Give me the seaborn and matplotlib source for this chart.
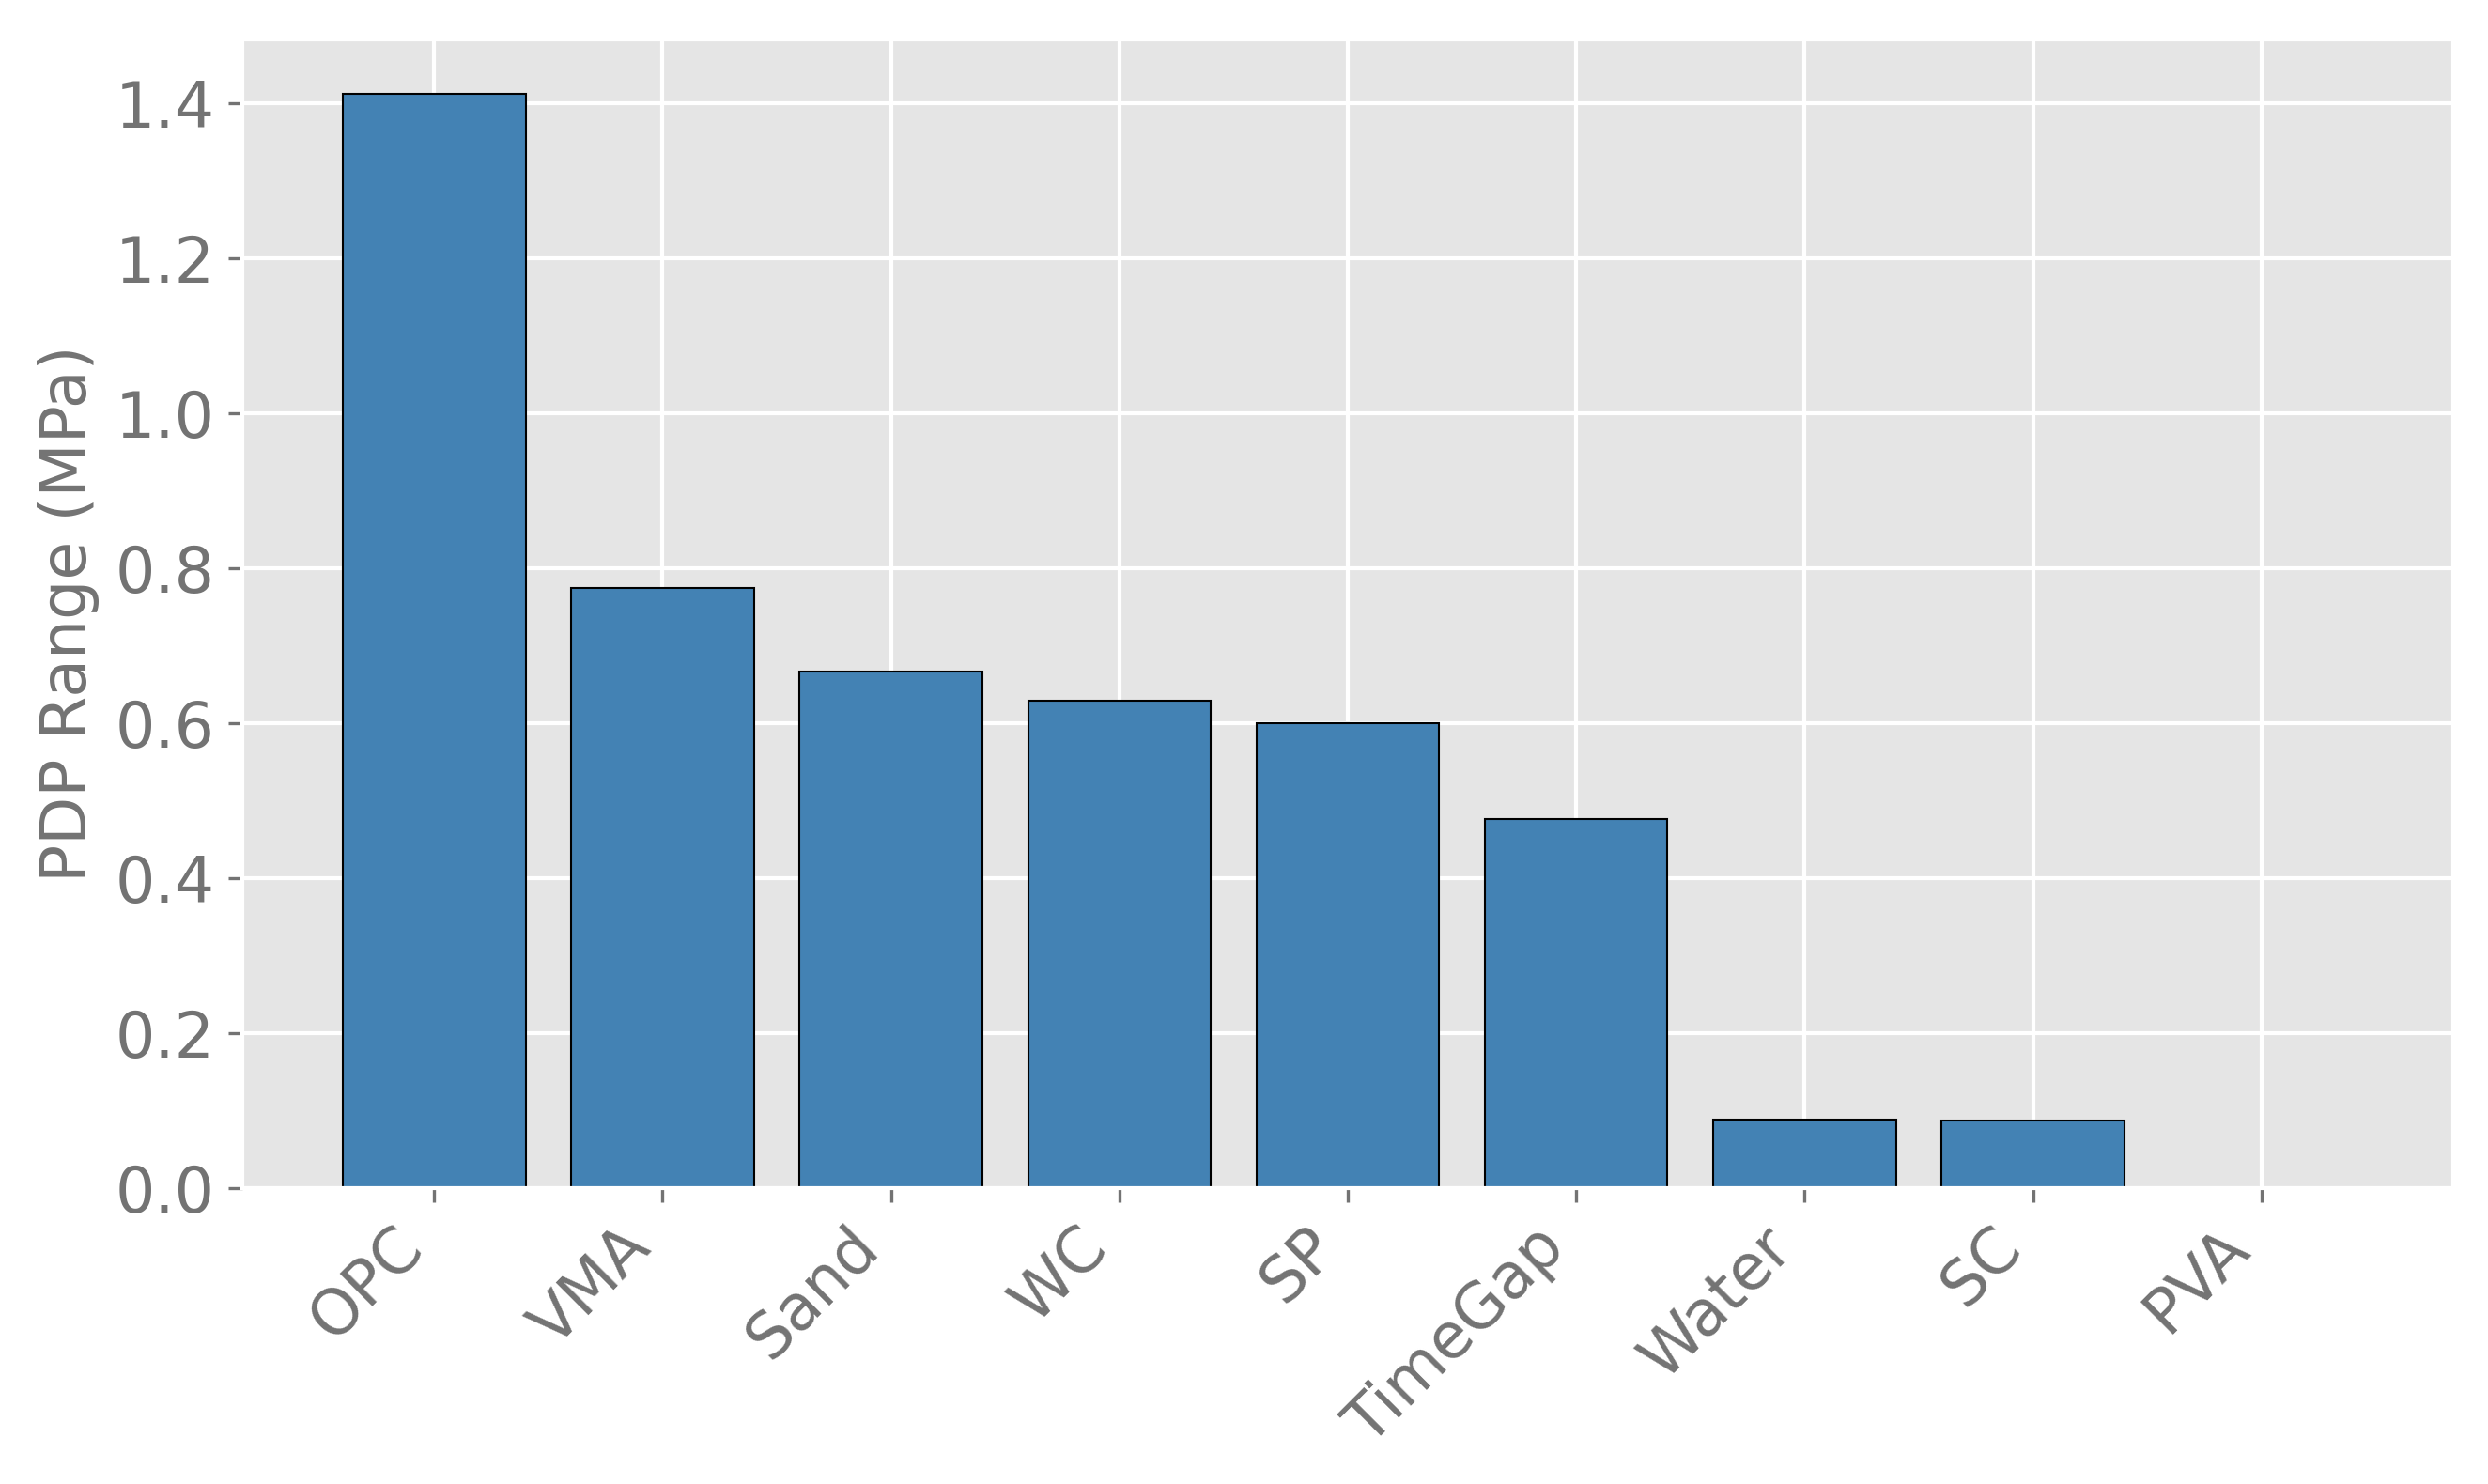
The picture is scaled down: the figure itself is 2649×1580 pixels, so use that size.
import matplotlib
matplotlib.use("Agg")
import matplotlib.pyplot as plt
import seaborn as sns
import pandas as pd

categories = ["OPC", "VMA", "Sand", "WC", "SP", "TimeGap", "Water", "SC", "PVA"]
pdp_range = [1.413, 0.775, 0.667, 0.629, 0.600, 0.476, 0.089, 0.087, 0.0]

plt.style.use("ggplot")
plt.rcParams["font.family"] = ["DejaVu Sans"]

df = pd.DataFrame({"feature": categories, "range": pdp_range})

fig = plt.figure(figsize=(2649 / 300, 1580 / 300), dpi=300)
ax = fig.add_axes([258 / 2649, 1 - 1265 / 1580, (2612 - 258) / 2649, (1265 - 42) / 1580])

sns.barplot(data=df, x="feature", y="range", ax=ax, color="#4382B4",
            saturation=1, edgecolor="black", linewidth=0.5, width=0.8)

ax.set_xlim(-0.84, 8.84)
ax.set_ylim(0, 1.483)
ax.set_xlabel("")
ax.set_ylabel("PDP Range (MPa)", fontsize=16, color="#737373")
ax.tick_params(axis="both", labelsize=16, colors="#737373")
plt.setp(ax.get_xticklabels(), rotation=45, ha="right", rotation_mode="default")
ax.grid(True, color="white", linewidth=1)
ax.set_axisbelow(True)

fig.savefig("out.png", dpi=300)
